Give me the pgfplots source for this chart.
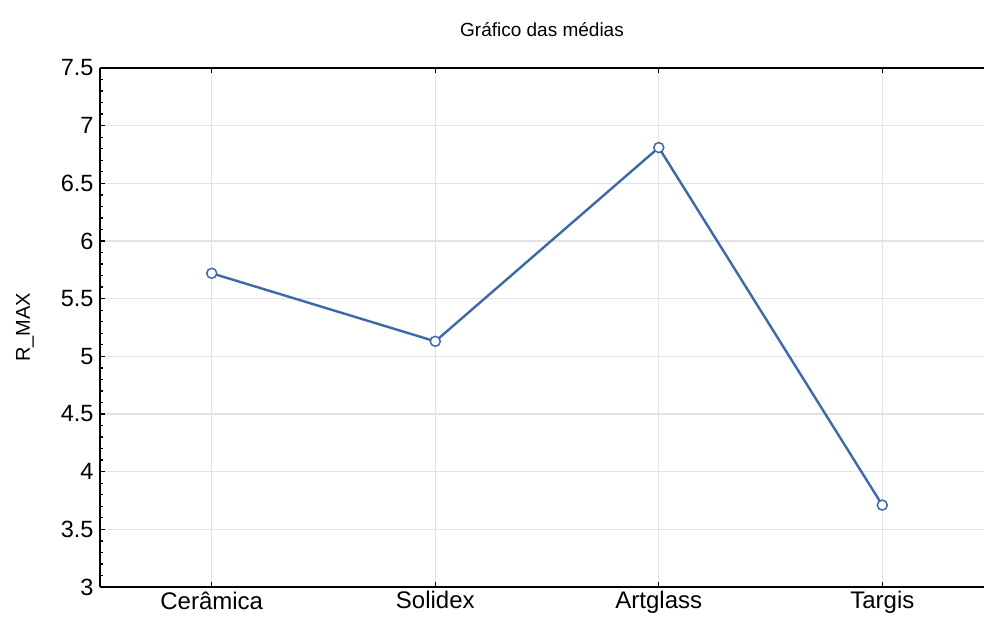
\documentclass[border=0pt]{standalone}
\usepackage{pgfplots}
\pgfplotsset{compat=1.18}
\usepackage{fontspec}
\setmainfont{Liberation Sans}
\definecolor{linecol}{HTML}{3F68A8}
\begin{document}
\begin{tikzpicture}
\begin{axis}[
  name=ax,
  scale only axis,
  width=884pt, height=519pt,
  xmin=-0.5, xmax=3.455,
  ymin=3, ymax=7.5,
  xtick={0,1,2,3},
  xticklabels={Cerâmica,Solidex,Artglass,Targis},
  ytick={3,3.5,4,4.5,5,5.5,6,6.5,7,7.5},
  yticklabels={3,3.5,4,4.5,5,5.5,6,6.5,7,7.5},
  minor y tick num=4,
  axis x line*=box,
  axis y line*=left,
  tick align=inside,
  major tick length=5pt,
  minor tick length=3.5pt,
  every tick/.style={black, line width=1.3pt},
  axis line style={black, line width=2.4pt},
  grid=major,
  major grid style={gray!22, line width=1.3pt},
  tick label style={font=\fontsize{23.5}{25}\selectfont},
  xticklabel style={font=\fontsize{24}{26}\selectfont, yshift=-1pt},
  /pgf/number format/assume math mode=true,
  yticklabel style={xshift=-3pt},
  title={Gráfico das médias},
  title style={font=\fontsize{19}{21}\selectfont, yshift=22pt},
  ylabel={R\_MAX},
  ylabel style={font=\fontsize{20}{22}\selectfont, yshift=20pt},
  axis background/.style={fill=white},
]
\addplot[color=linecol, line width=2.4pt, mark=*, mark size=5pt,
  mark options={fill=white, draw=linecol, line width=1.5pt}]
  coordinates {(0,5.72) (1,5.13) (2,6.81) (3,3.71)};
\end{axis}
\pgfresetboundingbox
\path ([xshift=-100pt,yshift=-39pt]ax.south west) rectangle ([yshift=68pt]ax.north east);
\end{tikzpicture}
\end{document}
